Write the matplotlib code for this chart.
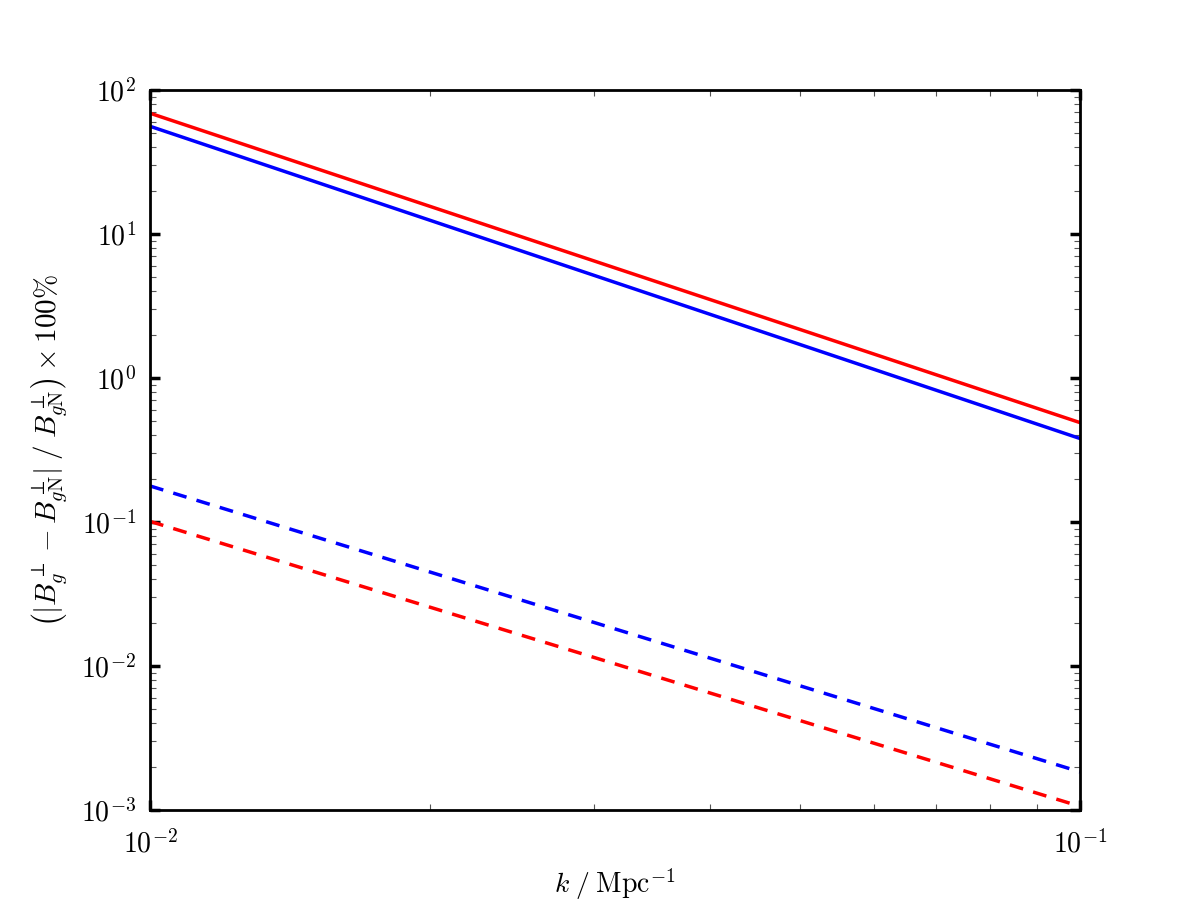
import matplotlib
matplotlib.use("Agg")
import matplotlib.pyplot as plt
from matplotlib.ticker import FuncFormatter, NullFormatter
import numpy as np

plt.rcParams["mathtext.fontset"] = "cm"
plt.rcParams["font.family"] = ["DejaVu Serif"]

# wavenumbers (Mpc^-1) at the ends of each straight log-log line
k = [0.01, 0.1]
red_solid = [69.0, 0.49]
blue_solid = [56.0, 0.38]
blue_dashed = [0.178, 0.00184]
red_dashed = [0.101, 0.00106]

fig = plt.figure(figsize=(12, 9), dpi=100)
ax = fig.add_axes([0.125, 0.1, 0.775, 0.8])

dash = (0, (4.0, 3.0))
ax.loglog(k, red_solid, color="red", lw=2.5)
ax.loglog(k, blue_solid, color="blue", lw=2.5)
ax.loglog(k, blue_dashed, color="blue", lw=2.5, ls=dash)
ax.loglog(k, red_dashed, color="red", lw=2.5, ls=dash)

ax.set_xlim(0.01, 0.1)
ax.set_ylim(1e-3, 1e2)

fmt = FuncFormatter(lambda v, p: r"$10^{%d}$" % int(round(np.log10(v))))
ax.xaxis.set_major_formatter(fmt)
ax.yaxis.set_major_formatter(fmt)
ax.xaxis.set_minor_formatter(NullFormatter())
ax.yaxis.set_minor_formatter(NullFormatter())

for sp in ax.spines.values():
    sp.set_linewidth(2)
ax.tick_params(which="both", direction="in", top=True, right=True)
ax.tick_params(which="major", length=7, width=2.5, labelsize=20)
ax.tick_params(axis="x", which="major", pad=14)
ax.tick_params(axis="y", which="major", pad=10)
ax.tick_params(which="minor", length=4, width=0.8, color="#555555")

ax.set_xlabel(r"$k\;/\;\mathrm{Mpc}^{-1}$", fontsize=20, labelpad=6)
ax.set_ylabel(r"$\left(|B_g^{\perp} - B_{g\mathrm{N}}^{\perp}|\;/\;B_{g\mathrm{N}}^{\perp}\right)\times 100\%$",
              fontsize=21, labelpad=8)

fig.savefig("out.png", dpi=100)
